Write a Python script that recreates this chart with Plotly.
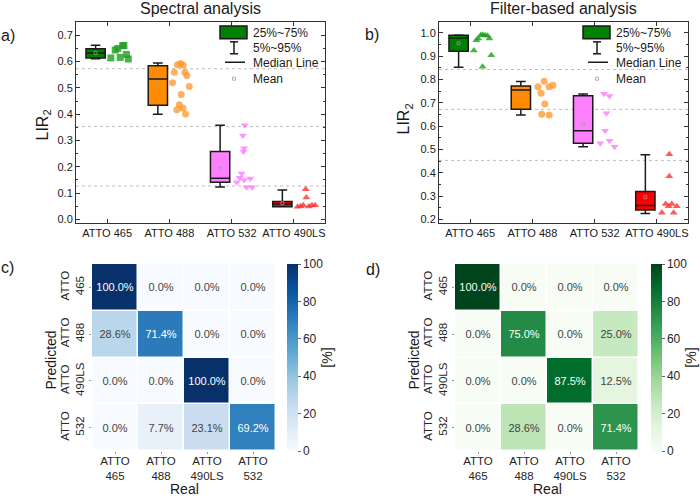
import plotly.graph_objects as go
import plotly.colors as pc

W, H = 700, 499
def PX(x): return x / W
def PY(y): return 1 - y / H

FONT = "Arial, Liberation Sans, sans-serif"

groups = ["ATTO 465", "ATTO 488", "ATTO 532", "ATTO 490LS"]
group_pos = [1, 2, 3, 4]
box_colors = ["#008000", "#ff8c00", "#ff80ff", "#ff0000"]
point_colors = ["rgba(30,160,30,0.8)", "rgba(255,150,40,0.75)", "rgba(255,120,255,0.8)", "rgba(255,50,50,0.8)"]
a_symbols = ["square", "circle", "triangle-down", "triangle-up"]
b_symbols = ["triangle-up", "circle", "triangle-down", "triangle-up"]

# ---- Spectral analysis (panel a) box statistics ----
a_q1 = [0.614, 0.434, 0.141, 0.048]
a_med = [0.633, 0.534, 0.157, 0.059]
a_q3 = [0.649, 0.584, 0.258, 0.068]
a_lo = [0.611, 0.400, 0.123, 0.048]
a_hi = [0.662, 0.595, 0.358, 0.112]
a_mean = [0.633, 0.514, 0.193, 0.062]

# ---- Spectral analysis raw points (value, jitter offset) ----
a_pts = [
    [0.614, 0.644, 0.650, 0.616, 0.661, 0.661, 0.627, 0.610],
    [0.560, 0.588, 0.593, 0.586, 0.560, 0.547, 0.505, 0.520, 0.475, 0.436, 0.417, 0.424, 0.401],
    [0.358, 0.319, 0.271, 0.258, 0.175, 0.158, 0.141, 0.150, 0.156, 0.122, 0.122],
    [0.115, 0.083, 0.048, 0.050, 0.054, 0.049, 0.054, 0.054],
]
a_jit = [
    [0.06, 0.13, 0.17, 0.21, 0.25, 0.27, 0.31, 0.34],
    [0.08, 0.13, 0.18, 0.22, 0.25, 0.28, 0.32, 0.05, 0.19, 0.16, 0.12, 0.22, 0.26],
    [0.21, 0.18, 0.20, 0.19, 0.16, 0.13, 0.08, 0.20, 0.30, 0.24, 0.33],
    [0.19, 0.20, 0.06, 0.11, 0.15, 0.24, 0.29, 0.34],
]
a_thresholds = [0.573, 0.353, 0.127]

# ---- Filter-based analysis (panel b) ----
b_q1 = [0.921, 0.672, 0.527, 0.240]
b_med = [0.978, 0.755, 0.580, 0.259]
b_q3 = [0.990, 0.772, 0.730, 0.320]
b_lo = [0.853, 0.648, 0.512, 0.225]
b_hi = [0.991, 0.791, 0.738, 0.477]
b_mean = [0.955, 0.729, 0.611, 0.295]

b_pts = [
    [0.924, 0.968, 0.976, 0.990, 0.992, 0.990, 0.988, 0.976, 0.904, 0.855],
    [0.769, 0.792, 0.769, 0.775, 0.741, 0.695, 0.651, 0.648],
    [0.739, 0.729, 0.655, 0.580, 0.537, 0.526, 0.511],
    [0.479, 0.385, 0.266, 0.266, 0.256, 0.256, 0.228, 0.228],
]
b_jit = [
    [0.06, 0.10, 0.13, 0.17, 0.20, 0.24, 0.28, 0.31, 0.34, 0.20],
    [0.09, 0.19, 0.27, 0.33, 0.14, 0.20, 0.15, 0.27],
    [0.15, 0.24, 0.19, 0.17, 0.24, 0.09, 0.32],
    [0.20, 0.20, 0.14, 0.24, 0.19, 0.32, 0.08, 0.27],
]
b_thresholds = [0.843, 0.672, 0.453]

# ---- Confusion matrices ----
cm_labels = ["ATTO<br>465", "ATTO<br>488", "ATTO<br>490LS", "ATTO<br>532"]
cm_spectral = [
    [100.0, 0.0, 0.0, 0.0],
    [28.6, 71.4, 0.0, 0.0],
    [0.0, 0.0, 100.0, 0.0],
    [0.0, 7.7, 23.1, 69.2],
]
cm_filter = [
    [100.0, 0.0, 0.0, 0.0],
    [0.0, 75.0, 0.0, 25.0],
    [0.0, 0.0, 87.5, 12.5],
    [0.0, 28.6, 0.0, 71.4],
]

BOX_SHIFT = -0.185
BOX_W = 0.31

fig = go.Figure()

def add_box_panel(xa, ya, q1, med, q3, lo, hi, mean, pts, jit, symbols):
    for i in range(4):
        xpos = group_pos[i] + BOX_SHIFT
        fig.add_trace(go.Box(
            x=[xpos], q1=[q1[i]], median=[med[i]], q3=[q3[i]],
            lowerfence=[lo[i]], upperfence=[hi[i]],
            fillcolor=box_colors[i], line=dict(color="#1a1a1a", width=1.5),
            width=BOX_W, whiskerwidth=0.5, boxpoints=False,
            showlegend=False, xaxis=xa, yaxis=ya, hoverinfo="skip"))
        fig.add_trace(go.Scatter(
            x=[xpos], y=[mean[i]], mode="markers",
            marker=dict(symbol="square-open", size=3, color="#a0a0a0", line=dict(width=0.7)),
            showlegend=False, xaxis=xa, yaxis=ya))
        fig.add_trace(go.Scatter(
            x=[group_pos[i] + j for j in jit[i]], y=pts[i], mode="markers",
            marker=dict(symbol=symbols[i], size=7, color=point_colors[i], line=dict(width=0)),
            showlegend=False, xaxis=xa, yaxis=ya))

add_box_panel("x", "y", a_q1, a_med, a_q3, a_lo, a_hi, a_mean, a_pts, a_jit, a_symbols)
add_box_panel("x2", "y2", b_q1, b_med, b_q3, b_lo, b_hi, b_mean, b_pts, b_jit, b_symbols)

def cbar(x_left):
    return dict(thickness=11, thicknessmode="pixels", len=(453 - 265) / H, lenmode="fraction",
                x=PX(x_left), xanchor="left", xpad=0, ypad=0, y=PY(359), yanchor="middle",
                outlinewidth=0, tickvals=[0, 20, 40, 60, 80, 100], ticks="outside",
                ticklen=3, tickcolor="#666", tickfont=dict(size=12, color="#262626", family=FONT),
                title=dict(text="[%]", side="right", font=dict(size=14, color="#262626", family=FONT)))

fig.add_trace(go.Heatmap(
    z=cm_spectral, x=cm_labels, y=cm_labels, colorscale=pc.sequential.Blues,
    zmin=0, zmax=100, xgap=1.5, ygap=1.5, texttemplate="%{z:.1f}%",
    textfont=dict(size=11, family=FONT), colorbar=cbar(287), xaxis="x3", yaxis="y3"))
fig.add_trace(go.Heatmap(
    z=cm_filter, x=cm_labels, y=cm_labels, colorscale=pc.sequential.Greens,
    zmin=0, zmax=100, xgap=1.5, ygap=1.5, texttemplate="%{z:.1f}%",
    textfont=dict(size=11, family=FONT), colorbar=cbar(651), xaxis="x4", yaxis="y4"))

AX = dict(showline=True, linecolor="#333", linewidth=1, mirror="ticks", ticks="inside",
          ticklen=4, tickcolor="#333", showgrid=False, zeroline=False,
          tickfont=dict(size=11, color="#1a1a1a", family=FONT))

HMX = dict(ticks="outside", ticklen=2, tickcolor="#999", showgrid=False, zeroline=False,
           showline=False, ticklabelstandoff=-3,
           tickfont=dict(size=11.5, color="#262626", family=FONT))
HMY = dict(ticks="outside", ticklen=2, tickcolor="#999", showgrid=False, zeroline=False,
           showline=False, tickangle=-90, autorange="reversed",
           tickfont=dict(size=11.5, color="#262626", family=FONT))

fig.update_layout(
    width=W, height=H, margin=dict(l=0, r=0, t=0, b=0),
    paper_bgcolor="white", plot_bgcolor="white", boxmode="overlay",
    font=dict(family=FONT, color="#1a1a1a"),
    xaxis=dict(**AX, domain=[PX(76), PX(325)], range=[0.5, 4.5], tickvals=group_pos,
               ticktext=groups, anchor="y"),
    yaxis=dict(**AX, domain=[PY(224), PY(22)], range=[-0.014, 0.751], dtick=0.1,
               tickformat=".1f", anchor="x",
               minor=dict(ticks="inside", dtick=0.05, ticklen=2, tickcolor="#333")),
    xaxis2=dict(**AX, domain=[PX(439), PX(688)], range=[0.5, 4.5], tickvals=group_pos,
                ticktext=groups, anchor="y2"),
    yaxis2=dict(**AX, domain=[PY(224), PY(22)], range=[0.184, 1.047], dtick=0.1,
                tickformat=".1f", anchor="x2",
                minor=dict(ticks="inside", dtick=0.05, ticklen=2, tickcolor="#333")),
    xaxis3=dict(**HMX, domain=[PX(92), PX(276)], anchor="y3"),
    yaxis3=dict(**HMY, domain=[PY(453), PY(265)], anchor="x3"),
    xaxis4=dict(**HMX, domain=[PX(455), PX(639)], anchor="y4"),
    yaxis4=dict(**HMY, domain=[PY(453), PY(265)], anchor="x4"),
)

shapes = []
for v in a_thresholds:
    shapes.append(dict(type="line", xref="x domain", yref="y", x0=0, x1=1, y0=v, y1=v,
                       line=dict(color="#bdbdbd", width=1, dash="dot"), layer="below"))
for v in b_thresholds:
    shapes.append(dict(type="line", xref="x2 domain", yref="y2", x0=0, x1=1, y0=v, y1=v,
                       line=dict(color="#bdbdbd", width=1, dash="dot"), layer="below"))

annotations = []
def legend(dx):
    shapes.append(dict(type="rect", xref="paper", yref="paper", x0=PX(220 + dx), x1=PX(247 + dx),
                       y0=PY(39), y1=PY(26), fillcolor="#008000", line=dict(color="#1a1a1a", width=1.5)))
    shapes.append(dict(type="line", xref="paper", yref="paper", x0=PX(234 + dx), x1=PX(234 + dx),
                       y0=PY(54), y1=PY(42), line=dict(color="#1a1a1a", width=1.5)))
    for yy in (42, 54):
        shapes.append(dict(type="line", xref="paper", yref="paper", x0=PX(230 + dx), x1=PX(238 + dx),
                           y0=PY(yy), y1=PY(yy), line=dict(color="#1a1a1a", width=1.5)))
    shapes.append(dict(type="line", xref="paper", yref="paper", x0=PX(225 + dx), x1=PX(245 + dx),
                       y0=PY(62.5), y1=PY(62.5), line=dict(color="#1a1a1a", width=1.5)))
    shapes.append(dict(type="rect", xref="paper", yref="paper", x0=PX(232.5 + dx), x1=PX(235.5 + dx),
                       y0=PY(80.5), y1=PY(77.5), line=dict(color="#b0b0b0", width=1)))
    for txt, yy in (("25%~75%", 33), ("5%~95%", 48), ("Median Line", 63), ("Mean", 79)):
        annotations.append(dict(text=txt, xref="paper", yref="paper", x=PX(251 + dx), y=PY(yy),
                                xanchor="left", yanchor="middle", showarrow=False,
                                font=dict(size=12, color="#1a1a1a", family=FONT)))
legend(0)
legend(363)

def ann(text, x, y, size, angle=0):
    annotations.append(dict(text=text, xref="paper", yref="paper", x=PX(x), y=PY(y),
                            xanchor="center", yanchor="middle", showarrow=False, textangle=angle,
                            font=dict(size=size, color="#1a1a1a", family=FONT)))

ann("Spectral analysis", 200, 9, 16)
ann("Filter-based analysis", 563, 9, 16)
ann("a)", 8, 36, 16)
ann("b)", 372, 35, 16)
ann("c)", 7, 269, 16)
ann("d)", 373, 271, 16)
ann("LIR<sub>2</sub>", 43, 126, 16, -90)
ann("LIR<sub>2</sub>", 405, 120, 16, -90)
ann("Real", 184, 491, 14)
ann("Real", 547, 491, 14)
ann("Predicted", 51, 362, 14, -90)
ann("Predicted", 414, 362, 14, -90)

fig.update_layout(shapes=shapes, annotations=annotations)
fig.write_html("out.html")
